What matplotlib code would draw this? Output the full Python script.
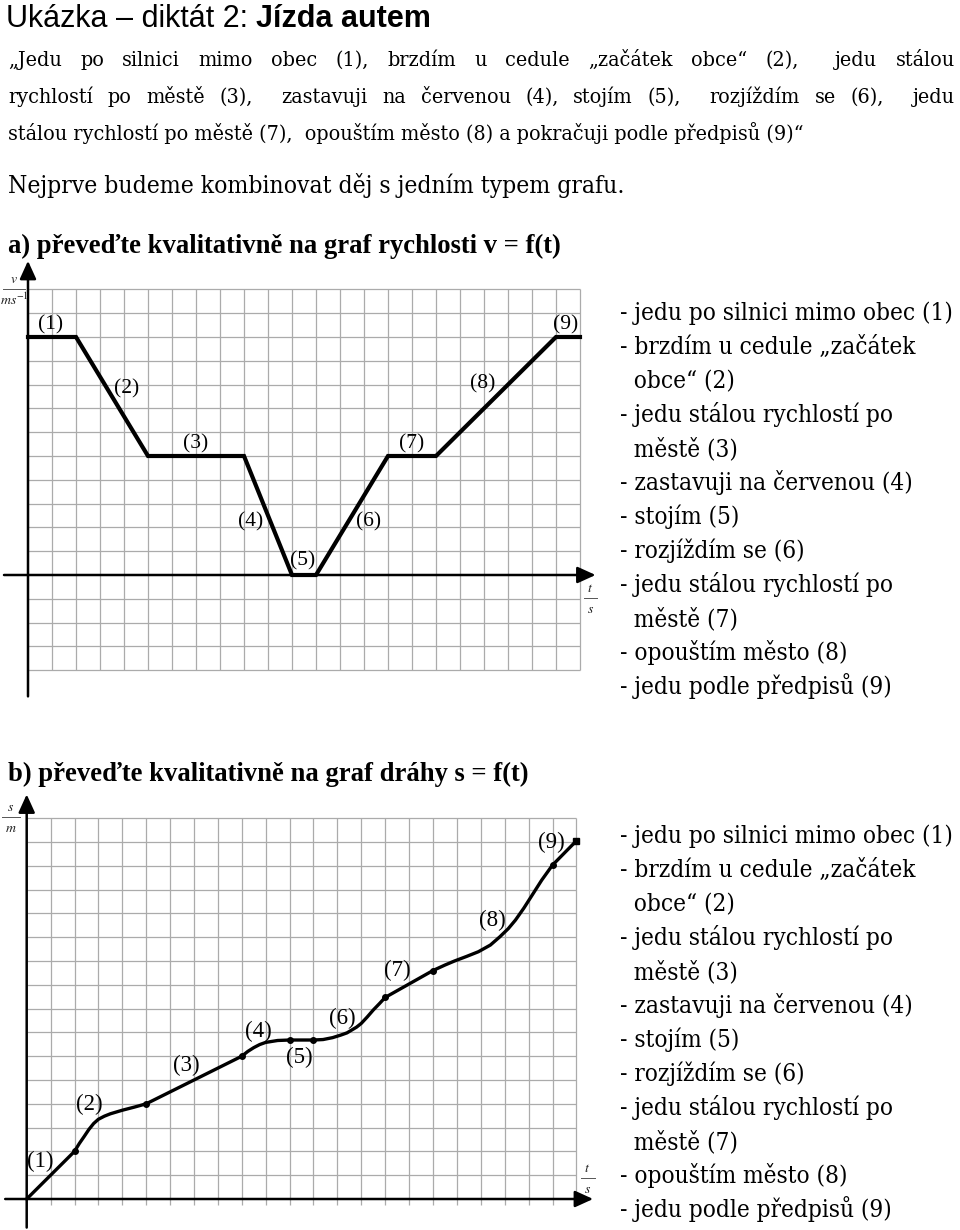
# diktat 2 - jizda autem: graf rychlosti v = f(t) a drahy s = f(t)
import matplotlib
matplotlib.use('Agg')
import matplotlib.pyplot as plt

plt.rcParams['mathtext.fontset'] = 'stix'

# data (time in grid cells)
v_t = [0, 2, 5, 9, 11, 12, 15, 17, 22, 23]
v_v = [10, 10, 5, 5, 0, 0, 5, 5, 10, 10]
v_labels = ['(1)', '(2)', '(3)', '(4)', '(5)', '(6)', '(7)', '(8)', '(9)']
v_lab_x = [0.96, 4.09, 6.97, 9.29, 11.46, 14.18, 15.98, 18.96, 22.39]
v_lab_y = [10.53, 7.84, 5.5, 2.25, 0.58, 2.22, 5.5, 8.02, 10.53]

s_t = [0, 2, 2.2, 2.4, 2.6, 2.8, 3.0, 3.25, 3.5, 4.0, 4.5, 5,
       9, 9.25, 9.5, 9.75, 10, 10.5, 11, 12,
       12.4, 12.8, 13.15, 13.4, 13.6, 13.8, 14.0, 14.25, 14.5, 14.75, 15,
       17, 17.5, 17.9, 18.4, 18.9, 19.4, 19.8, 20.15, 20.45, 20.8, 21.15,
       21.55, 22, 23]
s_s = [0, 2, 2.33, 2.62, 2.92, 3.17, 3.35, 3.48, 3.58, 3.73, 3.86, 4.0,
       6.0, 6.2, 6.36, 6.49, 6.58, 6.66, 6.68, 6.68,
       6.7, 6.78, 6.89, 6.98, 7.1, 7.22, 7.38, 7.65, 7.94, 8.2, 8.47,
       9.6, 9.83, 10.0, 10.19, 10.39, 10.67, 11.02, 11.36, 11.72, 12.22, 12.77,
       13.4, 14.03, 15.05]
knot_t = [2, 5, 9, 11, 12, 15, 17, 22]
knot_s = [2, 4, 6, 6.68, 6.68, 8.47, 9.6, 14.03]
s_lab_x = [0.56, 2.62, 6.66, 9.68, 11.4, 13.21, 15.52, 19.5, 21.94]
s_lab_y = [1.56, 3.98, 5.61, 7.05, 5.96, 7.57, 9.6, 11.72, 14.97]

title_1 = 'Ukázka – diktát 2: '
title_2 = 'Jízda autem'
para = ['„Jedu po silnici mimo obec (1), brzdím u cedule „začátek obce“ (2),  jedu stálou',
        'rychlostí po městě (3),  zastavuji na červenou (4), stojím (5),  rozjíždím se (6),  jedu',
        'stálou rychlostí po městě (7),  opouštím město (8) a pokračuji podle předpisů (9)“']
intro = 'Nejprve budeme kombinovat děj s jedním typem grafu.'
head_a = 'a) převeďte kvalitativně na graf rychlosti v = f(t)'
head_b = 'b) převeďte kvalitativně na graf dráhy s = f(t)'
steps = ['- jedu po silnici mimo obec (1)', '- brzdím u cedule „začátek', '  obce“ (2)',
         '- jedu stálou rychlostí po', '  městě (3)', '- zastavuji na červenou (4)',
         '- stojím (5)', '- rozjíždím se (6)', '- jedu stálou rychlostí po',
         '  městě (7)', '- opouštím město (8)', '- jedu podle předpisů (9)']

SERIF = ['Liberation Serif', 'DejaVu Serif']
BODY = dict(family=['DejaVu Serif', 'Liberation Serif'], stretch='condensed')
NARROW = ['Liberation Sans Narrow', 'Liberation Sans', 'DejaVu Sans']
GRID = '#ababab'

W, H = 960, 1230
fig = plt.figure(figsize=(W / 100, H / 100), dpi=100)
rend = fig.canvas.get_renderer()


def ptext(x, y, s, **kw):
    return fig.text(x / W, 1 - y / H, s, **kw)


def width(t):
    if not t.get_text():
        return 0.0
    return t.get_window_extent(rend).width


def fit(t, target):
    t.set_fontsize(t.get_fontsize() * target / width(t))
    return t.get_fontsize()


def justify(line, y, x0, x1, size):
    # double spaces count as two gaps, like in the original
    words = line.split(' ')
    ts = [ptext(0, y, w, fontsize=size, va='baseline', **BODY) for w in words]
    ws = [width(t) for t in ts]
    gap = (x1 - x0 - sum(ws)) / (len(ws) - 1)
    x = x0
    for t, w in zip(ts, ws):
        t.set_x(x / W)
        x += w + gap


# title
t1 = ptext(6, 27, title_1, family=NARROW, fontsize=22, va='baseline')
t2 = ptext(6 + width(t1), 27, title_2, family=NARROW, fontsize=22,
           fontweight='bold', va='baseline')

# paragraph
t = ptext(8, 140, para[2], fontsize=17, va='baseline', **BODY)
body_size = fit(t, 792)
justify(para[0], 66, 8, 955, body_size)
justify(para[1], 103, 8, 955, body_size)
t = ptext(8, 193, intro, fontsize=17, va='baseline', **BODY)
fit(t, 614)

t = ptext(8, 253, head_a, family=SERIF, fontsize=18, fontweight='bold', va='baseline')
fit(t, 552)
t = ptext(8, 781, head_b, family=SERIF, fontsize=18, fontweight='bold', va='baseline')
fit(t, 520)

for top in (320, 843):
    for i, s in enumerate(steps):
        t = ptext(620, top + i * 34, s, fontsize=17, va='baseline', **BODY)
        if i == 0:
            size = fit(t, 332)
        else:
            t.set_fontsize(size)


def graph_axes(x0, y0, sx, sy, xlim, ylim):
    left = x0 + xlim[0] * sx
    right = x0 + xlim[1] * sx
    top = y0 - ylim[1] * sy
    bottom = y0 - ylim[0] * sy
    ax = fig.add_axes([left / W, 1 - bottom / H, (right - left) / W, (bottom - top) / H])
    ax.set_xlim(xlim)
    ax.set_ylim(ylim)
    ax.axis('off')
    return ax


def arrow(ax, start, tip):
    ax.annotate('', xy=tip, xytext=start,
                arrowprops=dict(arrowstyle='-|>,head_length=0.55,head_width=0.25',
                                lw=1.8, color='black', mutation_scale=20,
                                shrinkA=0, shrinkB=0))


def unit(ax, x, y, top, bottom, x0, x1):
    ax.text(x, y, top, ha='center', va='center', fontsize=10, color='#222222')
    ax.plot([x0, x1], [y - 0.42, y - 0.42], color='#555555', lw=0.7, clip_on=False)
    ax.text(x, y - 0.88, bottom, ha='center', va='center', fontsize=10, color='#222222')


# graph a) v = f(t)
ax = graph_axes(28, 575, 24, 23.8, (-1.15, 24.2), (-5.3, 13.3))
ax.vlines(range(1, 24), -4, 12, color=GRID, lw=0.9)
ax.hlines([y for y in range(-4, 13) if y != 0], 0, 23, color=GRID, lw=0.9)
arrow(ax, (-1.0, 0), (23.65, 0))
arrow(ax, (0, -5.1), (0, 13.2))
ax.plot(v_t, v_v, color='black', lw=3.0, solid_joinstyle='miter')
for lab, x, y in zip(v_labels, v_lab_x, v_lab_y):
    ax.text(x, y, lab, ha='center', va='center', family=SERIF, fontsize=15.5)
unit(ax, -0.58, 12.45, '$v$', '$ms^{-1}$', -1.05, -0.12)
unit(ax, 23.42, -0.55, '$t$', '$s$', 23.17, 23.7)

# graph b) s = f(t)
ax = graph_axes(26.7, 1199, 23.9, 23.8, (-1.1, 24.0), (-1.4, 17.3))
ax.vlines(range(1, 24), -0.25, 16, color=GRID, lw=0.9)
ax.hlines(range(1, 17), 0, 23, color=GRID, lw=0.9)
arrow(ax, (-0.9, 0), (23.7, 0))
arrow(ax, (0, -1.2), (0, 17.0))
ax.plot(s_t, s_s, color='black', lw=2.4, solid_joinstyle='round', solid_capstyle='round')
ax.plot(knot_t, knot_s, 'o', color='black', ms=4)
ax.plot(s_t[-1], s_s[-1], 's', color='black', ms=5)
for lab, x, y in zip(v_labels, s_lab_x, s_lab_y):
    ax.text(x, y, lab, ha='center', va='center', family=SERIF, fontsize=16.5)
unit(ax, -0.68, 16.45, '$s$', '$m$', -1.03, -0.28)
unit(ax, 23.45, 1.3, '$t$', '$s$', 23.2, 23.78)

fig.savefig('out.png', dpi=100)
